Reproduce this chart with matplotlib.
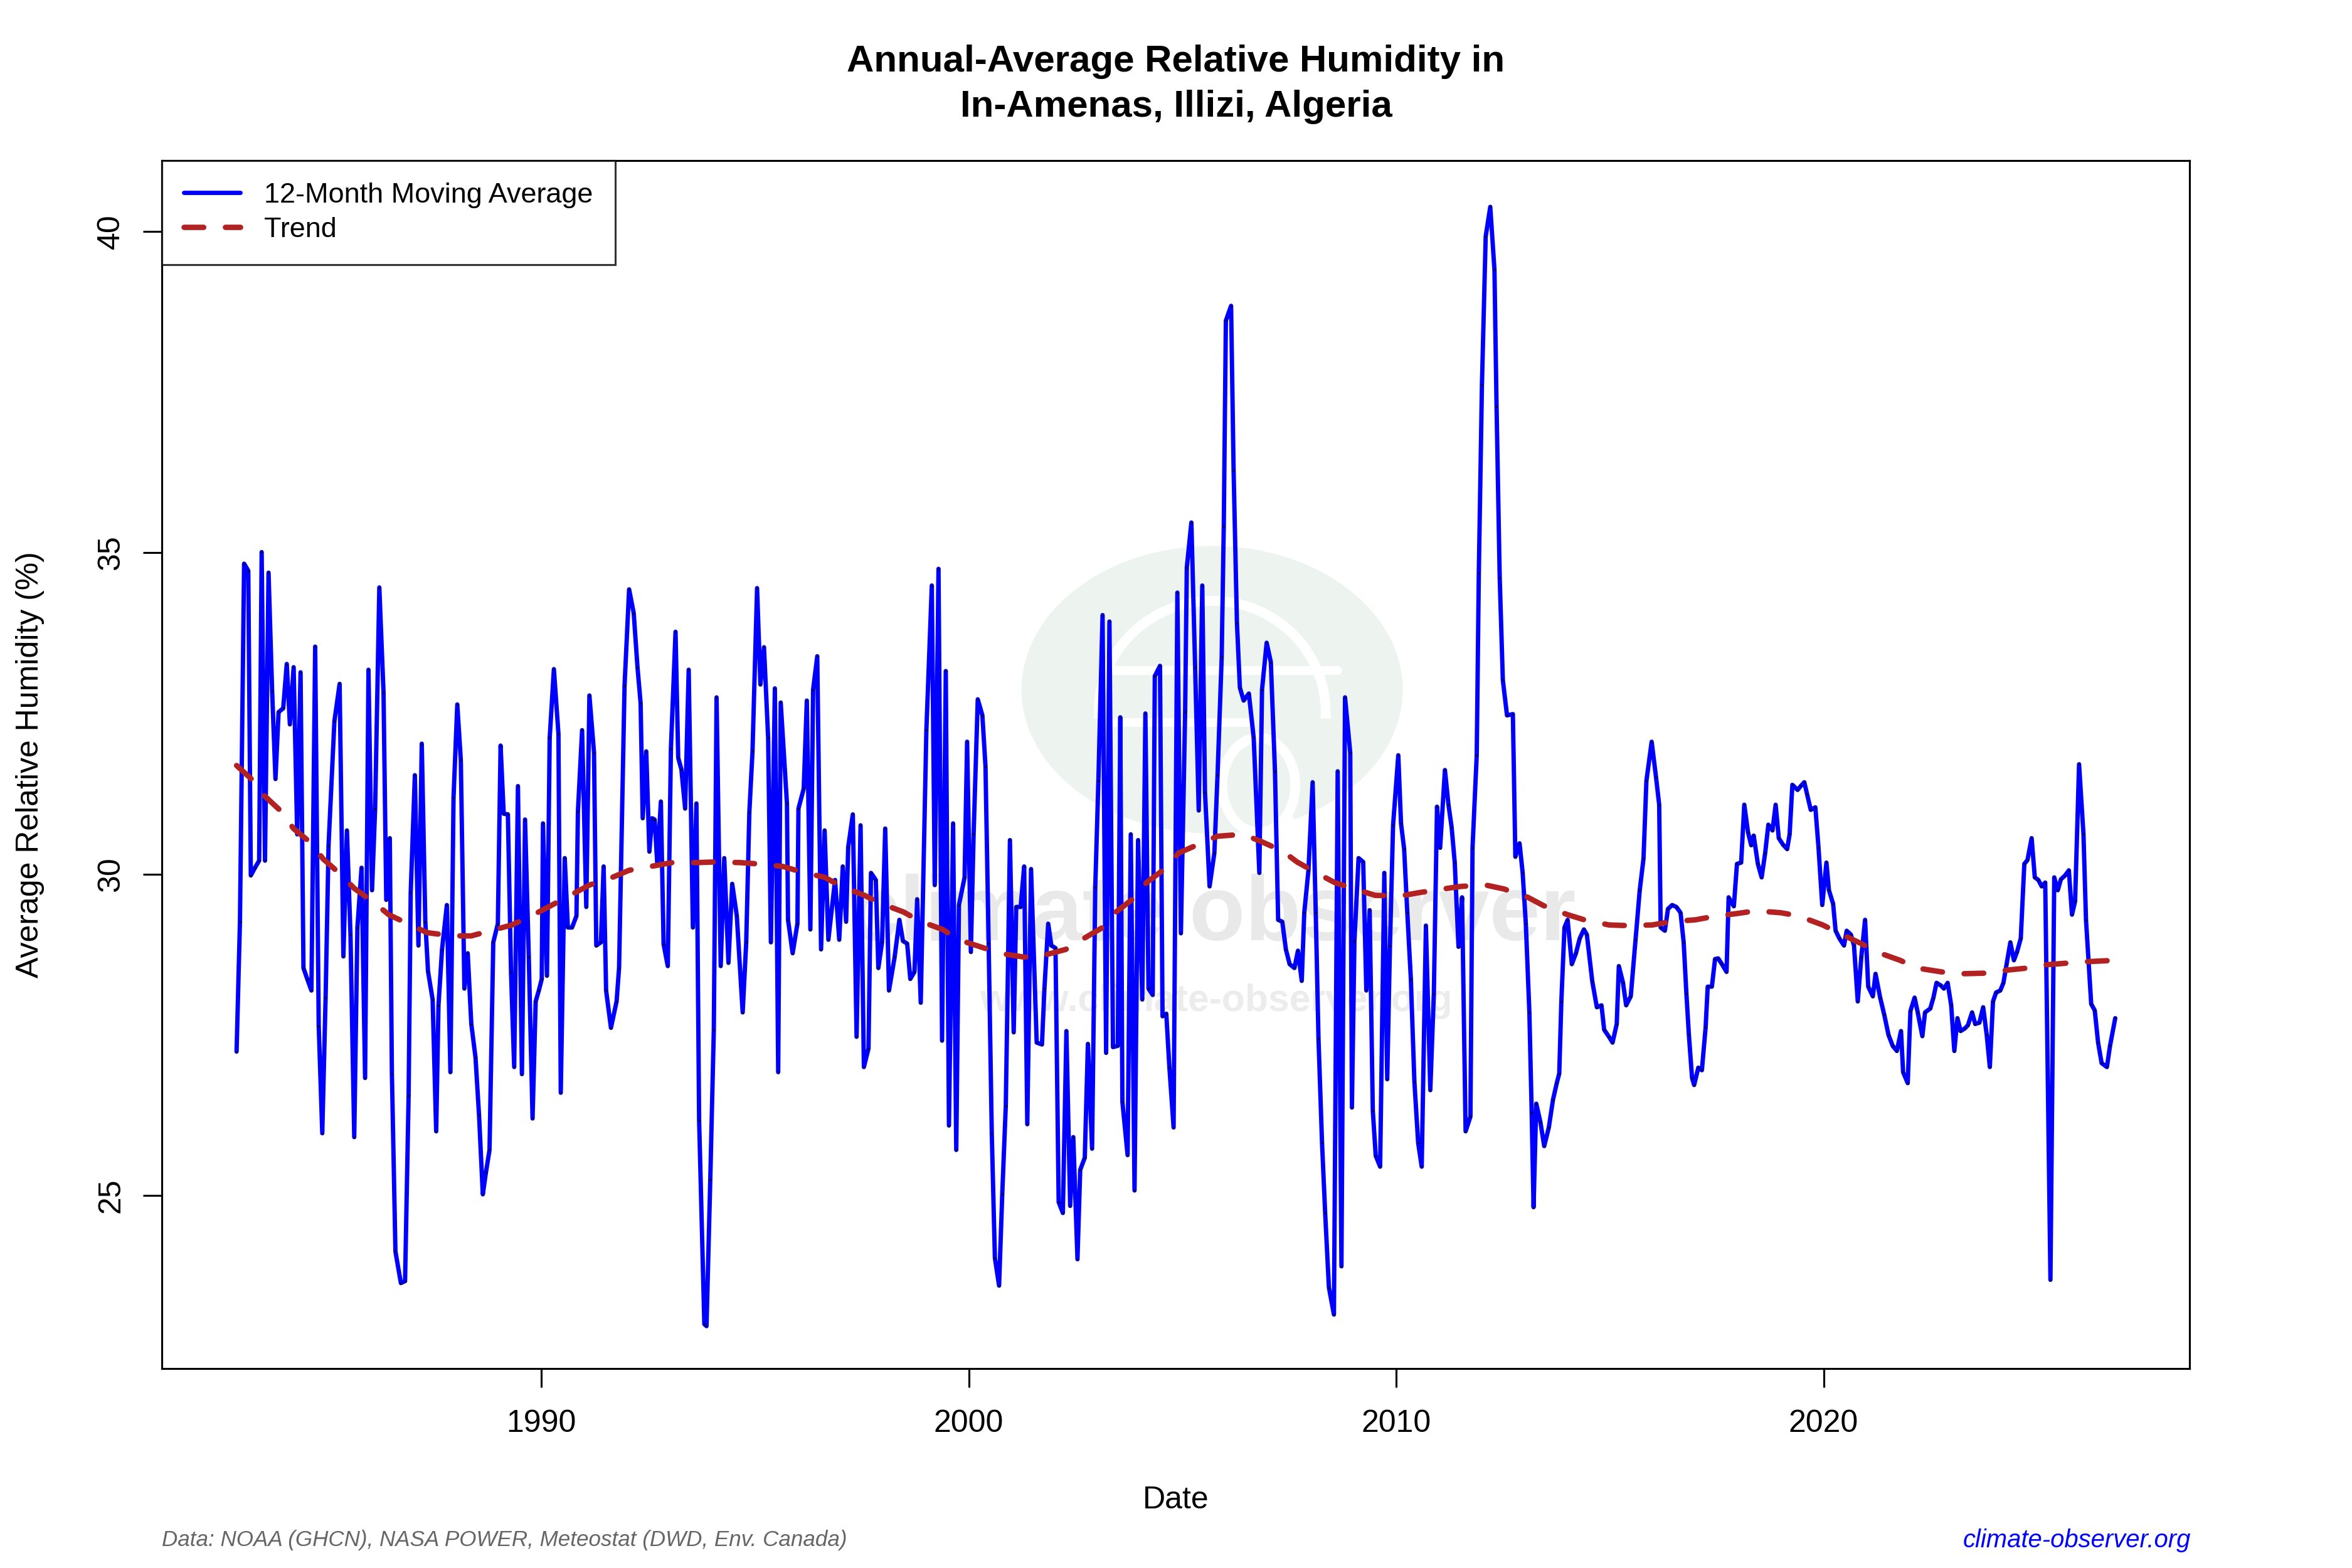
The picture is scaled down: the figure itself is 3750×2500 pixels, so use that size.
import matplotlib
matplotlib.use('Agg')
import numpy as np
from matplotlib import pyplot as plt
from matplotlib.patches import Ellipse, Arc

plt.rcParams['font.family'] = ['Liberation Sans', 'DejaVu Sans']

# 12-month moving average, vertices (decimal year, %)
ma_year = [1982.869, 1982.948, 1983.045, 1983.143, 1983.202, 1983.300, 1983.397, 1983.456, 1983.534, 1983.617,
           1983.701, 1983.779, 1983.852, 1983.960, 1984.043, 1984.116, 1984.204, 1984.287, 1984.366, 1984.434,
           1984.522, 1984.620, 1984.708, 1984.791, 1984.874, 1984.952, 1985.021, 1985.158, 1985.280, 1985.368,
           1985.451, 1985.534, 1985.622, 1985.696, 1985.793, 1985.876, 1985.955, 1986.038, 1986.111, 1986.209,
           1986.307, 1986.371, 1986.454, 1986.503, 1986.586, 1986.713, 1986.811, 1986.894, 1986.943, 1987.040,
           1987.124, 1987.202, 1987.285, 1987.348, 1987.456, 1987.539, 1987.593, 1987.676, 1987.789, 1987.872,
           1987.945, 1988.033, 1988.116, 1988.199, 1988.277, 1988.361, 1988.459, 1988.542, 1988.630, 1988.703,
           1988.787, 1988.875, 1988.982, 1989.046, 1989.119, 1989.217, 1989.290, 1989.364, 1989.452, 1989.545,
           1989.618, 1989.706, 1989.794, 1989.867, 1989.941, 1990.009, 1990.038, 1990.131, 1990.195, 1990.293,
           1990.400, 1990.454, 1990.547, 1990.620, 1990.718, 1990.821, 1990.855, 1990.953, 1991.051, 1991.124,
           1991.232, 1991.285, 1991.393, 1991.457, 1991.515, 1991.628, 1991.760, 1991.818, 1991.946, 1992.053,
           1992.161, 1992.249, 1992.322, 1992.371, 1992.454, 1992.527, 1992.591, 1992.650, 1992.713, 1992.796,
           1992.860, 1992.958, 1993.031, 1993.139, 1993.202, 1993.276, 1993.364, 1993.447, 1993.545, 1993.628,
           1993.691, 1993.813, 1993.864, 1993.952, 1994.035, 1994.099, 1994.196, 1994.279, 1994.377, 1994.465,
           1994.573, 1994.710, 1994.793, 1994.866, 1994.940, 1995.047, 1995.125, 1995.209, 1995.306, 1995.370,
           1995.463, 1995.541, 1995.600, 1995.746, 1995.771, 1995.879, 1995.991, 1996.015, 1996.138, 1996.211,
           1996.294, 1996.358, 1996.455, 1996.544, 1996.627, 1996.715, 1996.871, 1996.969, 1997.052, 1997.130,
           1997.179, 1997.287, 1997.375, 1997.468, 1997.546, 1997.654, 1997.712, 1997.825, 1997.884, 1997.971,
           1998.045, 1998.133, 1998.265, 1998.377, 1998.460, 1998.558, 1998.632, 1998.729, 1998.793, 1998.876,
           1999.008, 1999.135, 1999.204, 1999.292, 1999.375, 1999.462, 1999.536, 1999.633, 1999.707, 1999.770,
           1999.902, 1999.961, 2000.049, 2000.113, 2000.210, 2000.318, 2000.391, 2000.465, 2000.538, 2000.611,
           2000.709, 2000.783, 2000.866, 2000.963, 2001.051, 2001.110, 2001.213, 2001.296, 2001.369, 2001.457,
           2001.589, 2001.712, 2001.770, 2001.858, 2001.932, 2002.029, 2002.103, 2002.201, 2002.284, 2002.372,
           2002.445, 2002.543, 2002.607, 2002.714, 2002.787, 2002.885, 2002.959, 2003.032, 2003.130, 2003.213,
           2003.291, 2003.374, 2003.487, 2003.545, 2003.594, 2003.716, 2003.790, 2003.878, 2003.961, 2004.059,
           2004.132, 2004.205, 2004.303, 2004.352, 2004.474, 2004.533, 2004.621, 2004.694, 2004.792, 2004.880,
           2004.963, 2005.062, 2005.101, 2005.208, 2005.296, 2005.380, 2005.463, 2005.526, 2005.634, 2005.746,
           2005.820, 2005.917, 2005.966, 2006.015, 2006.137, 2006.196, 2006.274, 2006.343, 2006.431, 2006.553,
           2006.666, 2006.798, 2006.861, 2006.969, 2007.067, 2007.164, 2007.238, 2007.335, 2007.419, 2007.507,
           2007.619, 2007.702, 2007.790, 2007.849, 2007.947, 2008.045, 2008.118, 2008.182, 2008.265, 2008.338,
           2008.426, 2008.543, 2008.631, 2008.719, 2008.803, 2008.925, 2008.964, 2009.023, 2009.120, 2009.228,
           2009.301, 2009.379, 2009.453, 2009.521, 2009.624, 2009.722, 2009.790, 2009.854, 2009.927, 2010.049,
           2010.113, 2010.186, 2010.260, 2010.343, 2010.426, 2010.514, 2010.597, 2010.695, 2010.798, 2010.881,
           2010.955, 2011.028, 2011.140, 2011.223, 2011.297, 2011.370, 2011.458, 2011.541, 2011.624, 2011.737,
           2011.786, 2011.884, 2011.933, 2012.006, 2012.094, 2012.201, 2012.299, 2012.348, 2012.422, 2012.495,
           2012.593, 2012.730, 2012.788, 2012.886, 2012.959, 2013.033, 2013.116, 2013.170, 2013.214, 2013.277,
           2013.375, 2013.463, 2013.571, 2013.668, 2013.757, 2013.815, 2013.864, 2013.937, 2014.011, 2014.109,
           2014.206, 2014.294, 2014.392, 2014.461, 2014.588, 2014.695, 2014.803, 2014.866, 2014.979, 2015.062,
           2015.160, 2015.209, 2015.307, 2015.380, 2015.488, 2015.600, 2015.698, 2015.786, 2015.854, 2015.977,
           2016.079, 2016.153, 2016.188, 2016.286, 2016.359, 2016.457, 2016.555, 2016.653, 2016.726, 2016.790,
           2016.848, 2016.922, 2016.971, 2017.068, 2017.152, 2017.240, 2017.288, 2017.386, 2017.460, 2017.533,
           2017.621, 2017.729, 2017.778, 2017.900, 2017.973, 2018.071, 2018.144, 2018.232, 2018.306, 2018.364,
           2018.462, 2018.550, 2018.633, 2018.707, 2018.804, 2018.878, 2018.951, 2019.049, 2019.147, 2019.205,
           2019.269, 2019.391, 2019.465, 2019.548, 2019.611, 2019.699, 2019.807, 2019.880, 2019.968, 2020.066,
           2020.125, 2020.222, 2020.281, 2020.369, 2020.477, 2020.540, 2020.638, 2020.711, 2020.799, 2020.882,
           2020.970, 2021.044, 2021.152, 2021.215, 2021.323, 2021.420, 2021.518, 2021.616, 2021.714, 2021.811,
           2021.860, 2021.968, 2022.031, 2022.129, 2022.202, 2022.310, 2022.373, 2022.496, 2022.569, 2022.642,
           2022.740, 2022.814, 2022.902, 2022.985, 2023.058, 2023.131, 2023.205, 2023.303, 2023.376, 2023.474,
           2023.547, 2023.645, 2023.733, 2023.816, 2023.889, 2023.963, 2024.036, 2024.134, 2024.207, 2024.281,
           2024.369, 2024.452, 2024.525, 2024.613, 2024.696, 2024.770, 2024.867, 2024.941, 2025.024, 2025.102,
           2025.185, 2025.307, 2025.396, 2025.479, 2025.552, 2025.650, 2025.738, 2025.811, 2025.884, 2025.977,
           2026.080, 2026.139, 2026.261, 2026.344, 2026.422, 2026.505, 2026.628, 2026.701, 2026.823]
ma_value = [27.24, 29.26, 34.83, 34.72, 29.98, 30.10, 30.21, 35.01, 30.21, 34.69,
            32.85, 31.48, 32.52, 32.58, 33.27, 32.33, 33.22, 30.62, 33.14, 28.54,
            28.37, 28.19, 33.54, 27.64, 25.97, 28.08, 30.45, 32.38, 32.96, 28.72,
            30.68, 29.06, 25.91, 29.17, 30.10, 26.83, 33.18, 29.75, 31.02, 34.46,
            32.83, 29.60, 30.56, 26.90, 24.13, 23.64, 23.67, 26.55, 29.71, 31.54,
            28.89, 32.03, 29.26, 28.49, 28.05, 26.00, 27.96, 28.83, 29.52, 26.92,
            31.19, 32.64, 31.77, 28.22, 28.77, 27.67, 27.15, 26.25, 25.02, 25.36,
            25.71, 28.94, 29.23, 32.00, 30.94, 30.93, 28.48, 27.00, 31.37, 26.89,
            30.85, 28.71, 26.20, 28.02, 28.19, 28.37, 30.79, 28.42, 32.12, 33.19,
            32.18, 26.60, 30.25, 29.17, 29.17, 29.35, 30.97, 32.24, 29.49, 32.78,
            31.89, 28.89, 28.94, 30.12, 28.19, 27.61, 28.02, 28.54, 32.93, 34.43,
            34.06, 33.22, 32.66, 30.87, 31.91, 30.35, 30.87, 30.85, 30.15, 31.13,
            28.91, 28.57, 31.95, 33.77, 31.81, 31.63, 31.02, 33.18, 29.17, 31.10,
            26.17, 23.00, 22.97, 25.25, 27.58, 32.75, 28.57, 30.25, 28.62, 29.85,
            29.35, 27.85, 28.94, 30.96, 31.91, 34.45, 32.95, 33.53, 32.12, 28.94,
            32.89, 26.92, 32.67, 31.10, 29.29, 28.77, 29.23, 31.02, 31.33, 32.70,
            29.14, 32.87, 33.39, 28.83, 30.68, 28.98, 29.91, 28.98, 30.12, 29.26,
            30.42, 30.93, 27.47, 30.76, 27.00, 27.29, 30.02, 29.91, 28.54, 28.94,
            30.71, 28.19, 28.71, 29.29, 28.96, 28.92, 28.37, 28.48, 29.61, 28.00,
            32.24, 34.49, 29.83, 34.75, 27.41, 33.16, 26.09, 30.79, 25.71, 29.52,
            29.95, 32.06, 28.79, 30.62, 32.72, 32.47, 31.68, 28.92, 25.97, 24.03,
            23.60, 25.02, 26.40, 30.53, 27.54, 29.49, 29.49, 30.12, 26.11, 30.08,
            27.38, 27.35, 28.22, 29.23, 28.89, 28.85, 24.90, 24.73, 27.56, 24.84,
            25.91, 24.01, 25.40, 25.59, 27.36, 25.73, 29.79, 31.45, 34.03, 27.22,
            33.93, 27.31, 27.33, 32.44, 26.46, 25.63, 30.62, 25.08, 30.53, 28.05,
            32.50, 28.22, 28.12, 33.08, 33.24, 27.79, 27.83, 26.99, 26.06, 34.38,
            29.08, 32.52, 34.77, 35.47, 33.22, 30.99, 34.49, 31.28, 29.81, 30.33,
            31.54, 33.37, 35.41, 38.61, 38.84, 36.28, 33.91, 32.90, 32.70, 32.81,
            32.12, 30.02, 32.87, 33.60, 33.30, 31.60, 29.29, 29.26, 28.83, 28.60,
            28.54, 28.81, 28.34, 29.40, 30.06, 31.43, 29.40, 27.44, 25.82, 24.73,
            23.57, 23.15, 31.60, 23.90, 32.75, 31.89, 26.37, 28.96, 30.25, 30.19,
            28.19, 29.44, 26.32, 25.62, 25.45, 30.02, 26.81, 28.89, 30.76, 31.85,
            30.79, 30.39, 29.40, 28.37, 26.77, 25.82, 25.45, 29.20, 26.64, 28.14,
            31.05, 30.41, 31.62, 31.08, 30.73, 30.18, 28.87, 29.64, 26.00, 26.23,
            30.41, 31.85, 34.68, 37.61, 39.92, 40.38, 39.40, 37.28, 34.61, 33.02,
            32.47, 32.49, 30.27, 30.48, 30.02, 29.23, 27.85, 26.29, 24.82, 26.43,
            26.14, 25.77, 26.06, 26.49, 26.75, 26.90, 28.02, 29.17, 29.29, 28.60,
            28.77, 29.00, 29.14, 29.06, 28.33, 27.93, 27.96, 27.58, 27.47, 27.38,
            27.67, 28.57, 28.31, 27.96, 28.10, 28.98, 29.75, 30.24, 31.45, 32.06,
            31.51, 31.08, 29.17, 29.12, 29.46, 29.52, 29.49, 29.40, 28.94, 28.14,
            27.50, 26.83, 26.72, 26.99, 26.95, 27.62, 28.25, 28.25, 28.68, 28.69,
            28.60, 28.48, 29.64, 29.50, 30.16, 30.18, 31.08, 30.65, 30.45, 30.60,
            30.16, 29.95, 30.33, 30.77, 30.68, 31.08, 30.56, 30.46, 30.39, 30.62,
            31.39, 31.31, 31.37, 31.43, 31.25, 31.00, 31.04, 30.42, 29.52, 30.18,
            29.75, 29.54, 29.12, 29.00, 28.89, 29.12, 29.06, 28.89, 28.02, 28.71,
            29.29, 28.25, 28.10, 28.45, 28.08, 27.81, 27.50, 27.33, 27.25, 27.56,
            26.92, 26.75, 27.87, 28.08, 27.85, 27.48, 27.85, 27.91, 28.08, 28.31,
            28.27, 28.22, 28.31, 27.96, 27.25, 27.76, 27.56, 27.60, 27.65, 27.85,
            27.67, 27.69, 27.93, 27.50, 27.00, 28.02, 28.16, 28.19, 28.31, 28.60,
            28.94, 28.66, 28.79, 29.00, 30.16, 30.22, 30.56, 29.95, 29.91, 29.81,
            29.87, 23.69, 29.95, 29.75, 29.92, 29.98, 30.06, 29.37, 29.58, 31.71,
            30.62, 29.29, 27.98, 27.88, 27.38, 27.06, 27.00, 27.33, 27.76]

# smoothed trend
trend_year = [1982.87, 1983.25, 1983.52, 1983.94, 1984.20, 1984.62, 1984.89, 1985.33, 1985.62, 1986.10,
              1986.43, 1986.97, 1987.33, 1987.92, 1988.36, 1988.92, 1989.31, 1989.85, 1990.22, 1990.73,
              1991.12, 1991.66, 1992.05, 1992.64, 1993.06, 1993.64, 1994.06, 1994.65, 1995.06, 1995.65,
              1996.06, 1996.63, 1997.02, 1997.56, 1997.92, 1998.48, 1998.85, 1999.39, 1999.76, 2000.32,
              2000.71, 2001.30, 2001.71, 2002.27, 2002.64, 2003.13, 2003.42, 2003.89, 2004.16, 2004.62,
              2004.91, 2005.43, 2005.82, 2006.41, 2006.80, 2007.34, 2007.68, 2008.19, 2008.56, 2009.12,
              2009.51, 2010.10, 2010.51, 2011.10, 2011.52, 2012.10, 2012.52, 2013.08, 2013.45, 2014.01,
              2014.40, 2014.98, 2015.40, 2015.99, 2016.41, 2017.00, 2017.41, 2018.00, 2018.41, 2019.00,
              2019.41, 2019.98, 2020.34, 2020.88, 2021.24, 2021.79, 2022.18, 2022.76, 2023.18, 2023.77,
              2024.18, 2024.77, 2025.19, 2025.77, 2026.19, 2026.82]
trend_value = [31.69, 31.46, 31.22, 30.96, 30.71, 30.48, 30.24, 29.98, 29.78, 29.55,
               29.37, 29.20, 29.09, 29.04, 29.04, 29.14, 29.21, 29.38, 29.51, 29.69,
               29.83, 29.95, 30.06, 30.13, 30.18, 30.18, 30.19, 30.18, 30.16, 30.12,
               30.04, 29.95, 29.81, 29.67, 29.55, 29.41, 29.27, 29.14, 28.98, 28.86,
               28.77, 28.71, 28.73, 28.83, 28.98, 29.17, 29.40, 29.64, 29.87, 30.10,
               30.33, 30.48, 30.59, 30.62, 30.52, 30.36, 30.19, 30.00, 29.87, 29.75,
               29.67, 29.66, 29.71, 29.77, 29.81, 29.83, 29.77, 29.64, 29.51, 29.37,
               29.29, 29.21, 29.20, 29.21, 29.26, 29.29, 29.34, 29.39, 29.43, 29.40,
               29.35, 29.21, 29.09, 28.92, 28.79, 28.66, 28.54, 28.48, 28.45, 28.46,
               28.50, 28.54, 28.59, 28.62, 28.64, 28.66]

x_ticks = [1990, 2000, 2010, 2020]
y_ticks = [25, 30, 35, 40]

fig = plt.figure(figsize=(15, 10), dpi=250)
ax = fig.add_axes([0.0688, 0.1272, 0.8621, 0.7704])

# faint watermark behind the data (logo disc, white marks, site name)
wm = dict(transform=ax.transAxes, zorder=0.3)
ax.add_patch(Ellipse((0.518, 0.562), 0.188, 0.238, facecolor='#edf4ef', edgecolor='none',
                     transform=ax.transAxes, zorder=0))
ax.add_patch(Arc((0.518, 0.543), 0.112, 0.185, theta1=-5, theta2=185, color='white', lw=4.5, **wm))
ax.plot([0.465, 0.58], [0.578, 0.578], color='white', lw=4.0, solid_capstyle='round', **wm)
ax.plot([0.47, 0.535], [0.535, 0.535], color='white', lw=4.0, solid_capstyle='round', **wm)
ax.add_patch(Ellipse((0.541, 0.483), 0.036, 0.078, facecolor='none', edgecolor='white', lw=4.5, **wm))
ax.plot([0.555, 0.575], [0.455, 0.425], color='white', lw=4.5, solid_capstyle='round', **wm)
ax.text(0.518, 0.375, 'climate observer', ha='center', va='center', fontsize=42,
        fontweight='bold', color='#e9e9e9', transform=ax.transAxes, zorder=0.5)
ax.text(0.52, 0.304, 'www.climate-observer.org', ha='center', va='center', fontsize=17.5,
        fontweight='bold', color='#ececec', transform=ax.transAxes, zorder=0.5)

ax.plot(ma_year, ma_value, color='#0000FF', lw=2.0, solid_joinstyle='round',
        solid_capstyle='round', label='12-Month Moving Average', zorder=3)
ax.plot(ma_year, ma_value, ls='none', marker='o', ms=1.0, mfc='#000033', mec='none', zorder=3.5)
ax.plot(trend_year, trend_value, color='#B22222', lw=2.5, dashes=(3.6, 4.0),
        dash_capstyle='round', label='Trend', zorder=4)

ax.set_xlim(1981.12, 2028.56)
ax.set_ylim(22.31, 41.10)
ax.set_xticks(x_ticks)
ax.set_yticks(y_ticks)
ax.tick_params(axis='both', direction='out', length=8.6, width=0.9, labelsize=14.4, colors='black')
ax.tick_params(axis='x', pad=10)
ax.tick_params(axis='y', pad=8)
for lab in ax.get_yticklabels():
    lab.set_rotation(90)
    lab.set_va('center')
for sp in ax.spines.values():
    sp.set_linewidth(0.9)

leg = ax.legend(loc='upper left', bbox_to_anchor=(0, 1), borderaxespad=0, fontsize=12.96,
                frameon=True, fancybox=False, edgecolor='black', handlelength=2.0,
                handletextpad=0.85, borderpad=0.78, labelspacing=0.3)
leg.get_frame().set_linewidth(0.9)

fig.text(0.5, 0.9605, 'Annual-Average Relative Humidity in', ha='center', va='center',
         fontsize=17.28, fontweight='bold')
fig.text(0.5, 0.9318, 'In-Amenas, Illizi, Algeria', ha='center', va='center',
         fontsize=17.28, fontweight='bold')
fig.text(0.5, 0.0432, 'Date', ha='center', va='center', fontsize=14.4)
fig.text(0.0128, 0.5124, 'Average Relative Humidity (%)', ha='center', va='center',
         rotation=90, fontsize=14.4)
fig.text(0.0688, 0.0176, 'Data: NOAA (GHCN), NASA POWER, Meteostat (DWD, Env. Canada)',
         ha='left', va='center', fontsize=10.08, style='italic', color='#666666')
fig.text(0.9315, 0.0176, 'climate-observer.org', ha='right', va='center', fontsize=11.52,
         style='italic', color='#0000FF')

fig.savefig('out.png', dpi=250)
